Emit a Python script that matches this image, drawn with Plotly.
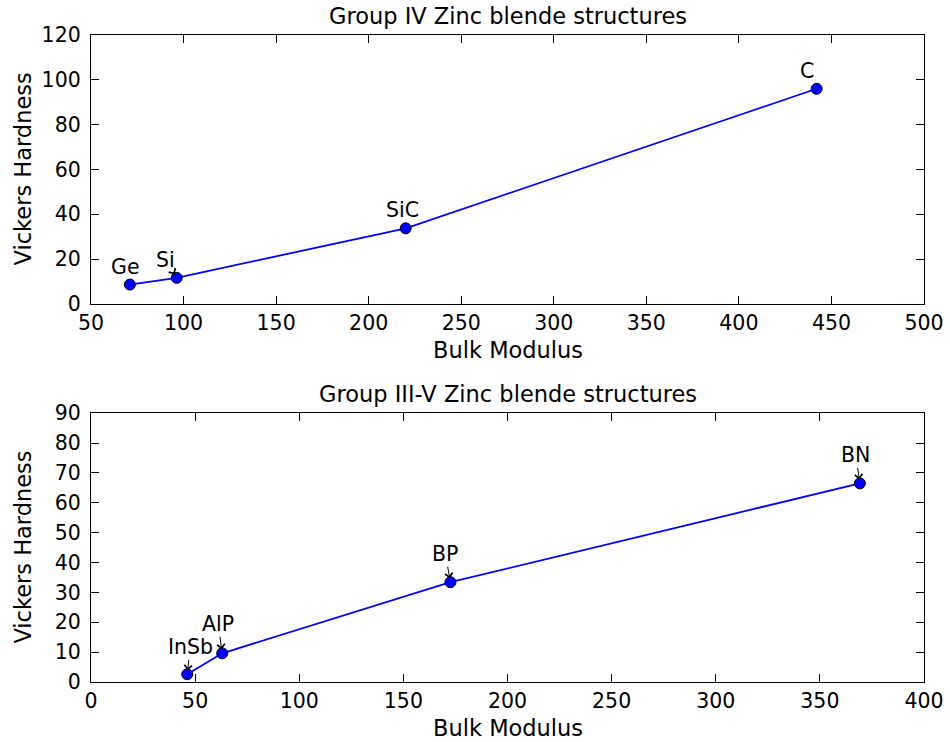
import plotly.graph_objects as go
from plotly.subplots import make_subplots

# Group IV elements / compounds
g4_names = ["Ge", "Si", "SiC", "C"]
g4_bulk = [71, 96.3, 220, 442]
g4_hard = [8.6, 11.6, 33.7, 96]
g4_text_dx = [-4, -11, -3, -10]
g4_text_dy = [-18, -18, -18, -18]

# Group III-V compounds
g35_names = ["InSb", "AlP", "BP", "BN"]
g35_bulk = [46.2, 63, 172.6, 369.2]
g35_hard = [2.6, 9.6, 33.4, 66.5]
g35_text_dx = [3, -4, -5, -4]
g35_text_dy = [-27, -29, -28, -28]

x1_ticks = [50, 100, 150, 200, 250, 300, 350, 400, 450, 500]
y1_ticks = [0, 20, 40, 60, 80, 100, 120]
x2_ticks = [0, 50, 100, 150, 200, 250, 300, 350, 400]
y2_ticks = [0, 10, 20, 30, 40, 50, 60, 70, 80, 90]

FONT = "DejaVu Sans"
TICK_SIZE = 20.5
LABEL_SIZE = 22.5

fig = make_subplots(rows=2, cols=1, vertical_spacing=0.169)

for row, (xs, ys) in enumerate([(g4_bulk, g4_hard), (g35_bulk, g35_hard)], start=1):
    fig.add_trace(
        go.Scatter(
            x=xs, y=ys, mode="lines+markers",
            line=dict(color="#0000ff", width=1.8),
            marker=dict(size=11, color="#0000ff", line=dict(color="black", width=1)),
            showlegend=False,
        ),
        row=row, col=1,
    )

axis_common = dict(
    showline=True, linecolor="black", linewidth=1.3, mirror="ticks",
    ticks="inside", ticklen=8, tickwidth=1, tickcolor="black",
    showgrid=False, zeroline=False, automargin=False,
    tickfont=dict(family=FONT, size=TICK_SIZE, color="black"),
)

fig.update_xaxes(range=[50, 500], tickvals=x1_ticks, row=1, col=1, **axis_common)
fig.update_yaxes(range=[0, 120], tickvals=y1_ticks, row=1, col=1,
                 ticklabelstandoff=5, **axis_common)
fig.update_xaxes(range=[0, 400], tickvals=x2_ticks, row=2, col=1, **axis_common)
fig.update_yaxes(range=[0, 90], tickvals=y2_ticks, row=2, col=1,
                 ticklabelstandoff=5, **axis_common)

annotations = []

# point labels with arrows
for names, xs, ys, dxs, dys, xr, yr in [
    (g4_names, g4_bulk, g4_hard, g4_text_dx, g4_text_dy, "x", "y"),
    (g35_names, g35_bulk, g35_hard, g35_text_dx, g35_text_dy, "x2", "y2"),
]:
    for n, x, y, dx, dy in zip(names, xs, ys, dxs, dys):
        annotations.append(dict(
            x=x, y=y, xref=xr, yref=yr, text=n,
            showarrow=True, ax=dx, ay=dy, axref="pixel", ayref="pixel",
            arrowhead=4, arrowsize=1.5, arrowwidth=1, arrowcolor="black",
            standoff=4, borderpad=0,
            font=dict(family=FONT, size=TICK_SIZE, color="black"),
        ))

# titles and axis labels
for title, xd, yd in [
    ("Group IV Zinc blende structures", "x domain", "y domain"),
    ("Group III-V Zinc blende structures", "x2 domain", "y2 domain"),
]:
    annotations.append(dict(
        x=0.5, y=1, xref=xd, yref=yd, text=title, showarrow=False,
        xanchor="center", yanchor="bottom", yshift=4,
        font=dict(family=FONT, size=LABEL_SIZE, color="black"),
    ))
    annotations.append(dict(
        x=0.5, y=0, xref=xd, yref=yd, text="Bulk Modulus", showarrow=False,
        xanchor="center", yanchor="top", yshift=-31,
        font=dict(family=FONT, size=LABEL_SIZE, color="black"),
    ))
    annotations.append(dict(
        x=0, y=0.5, xref=xd, yref=yd, text="Vickers Hardness", showarrow=False,
        xanchor="center", yanchor="middle", xshift=-68, textangle=-90,
        font=dict(family=FONT, size=LABEL_SIZE, color="black"),
    ))

fig.update_layout(
    width=950, height=742,
    margin=dict(l=91, r=26, t=35, b=60),
    paper_bgcolor="white", plot_bgcolor="white",
    font=dict(family=FONT, color="black"),
    annotations=annotations,
)

fig.write_html("out.html")
